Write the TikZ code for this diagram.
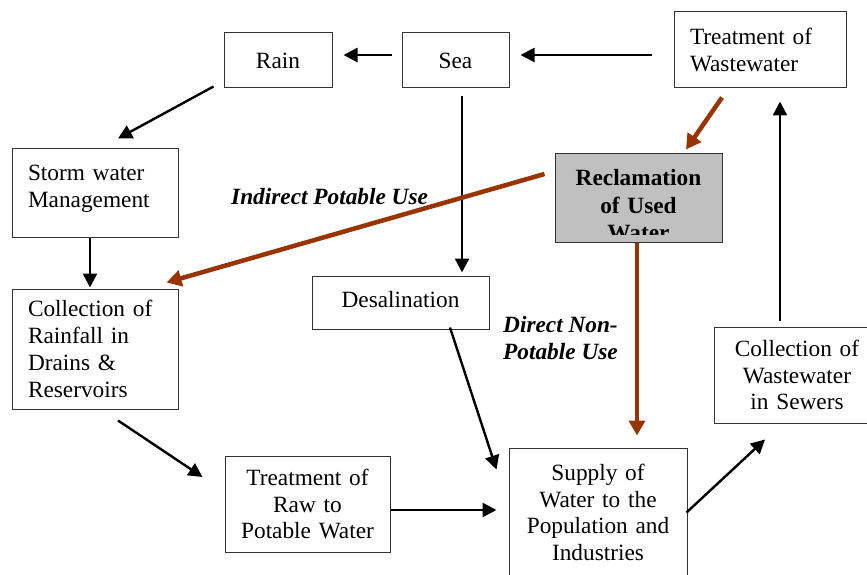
\documentclass[tikz,border=0pt]{standalone}
\usepackage{fontspec}
\setmainfont{Liberation Serif}
\usetikzlibrary{arrows.meta,calc}
\definecolor{brn}{RGB}{153,51,0}
\definecolor{rgray}{RGB}{192,192,192}
\begin{document}
\begin{tikzpicture}[x=1pt,y=-1pt,
  box/.style={draw=black!80, line width=1pt, inner sep=0pt, font=\fontsize{23.3}{26.8}\selectfont},
  cbox/.style={box, align=center},
  lbox/.style={box, align=left, inner xsep=16pt},
  sz/.style n args={3}{text width=#1, minimum width=#2, minimum height=#3},
  arr/.style={line width=2.4pt, -{Triangle[length=14pt,width=14pt]}},
  barr/.style={draw=brn, line width=4.5pt, -{Triangle[length=15pt,width=16pt]}, brn},
  lbl/.style={font=\fontsize{23.3}{27}\selectfont\bfseries\itshape, inner sep=0pt, align=left}
]
\useasboundingbox (0,0) rectangle (867,575);

% boxes
\node[cbox, sz={108pt}{108pt}{55pt}] (rain) at (278,60.5) {Rain};
\node[cbox, sz={107pt}{107pt}{55pt}] (sea) at (455.5,60.5) {Sea};
\node[lbox, sz={140pt}{172pt}{76pt}] (tww) at (760,50) {Treatment of\\Wastewater};
\node[box, fill=rgray, minimum width=167pt, minimum height=89pt] (recl) at (638.5,197.5) {};
\begin{scope}
  \clip ($(recl.north west)+(0,1)$) rectangle ($(recl.south east)+(0,-8)$);
  \node[cbox, draw=none, text width=167pt, font=\fontsize{23.3}{27.5}\selectfont\bfseries] (recltxt) at ($(recl.center)+(0,8)$) {Reclamation\\of Used\\Water};
\end{scope}
\node[lbox, sz={134pt}{166pt}{89pt}] (storm) at (95,192.5) {Storm water\\Management\\[-14pt]\mbox{}};
\node[lbox, sz={134pt}{166pt}{120pt}] (colr) at (95,349) {Collection of\\Rainfall in\\Drains \&\\Reservoirs};
\node[cbox, sz={177pt}{177pt}{53pt}] (desal) at (400.5,302.5) {Desalination\\[-21pt]\mbox{}};
\node[cbox, sz={165pt}{165pt}{96pt}] (traw) at (307.5,504) {Treatment of\\Raw to\\Potable Water};
\node[cbox, sz={178pt}{178pt}{129pt}] (supply) at (598,512.5) {Supply of\\Water to the\\Population and\\Industries};
\node[cbox, sz={166pt}{166pt}{96pt}] (colw) at (797,375) {Collection of\\Wastewater\\in Sewers};

% labels
\node[lbl, anchor=base west] (ipu) at (231,204) {Indirect Potable Use};
\node[lbl, anchor=west] (dnpu) at (503,338) {Direct Non-\\Potable Use};

% black connectors
\draw[arr] ($(sea.west)+(-10,-5.5)$) -- ($(rain.east)+(11,-5.5)$);
\draw[arr] ($(tww.west)+(-22,5)$) -- ($(sea.east)+(11,-5.5)$);
\draw[arr] ($(rain.south west)+(-10,-2)$) -- ($(storm.north)+(23,-9)$);
\draw[arr] ($(storm.south)+(-5,0)$) -- ($(colr.north)+(-5,-1)$);
\draw[arr] ($(sea.south)+(6.5,8)$) -- ($(desal.north)+(61.5,-3)$);
\draw[arr] ($(colw.north)+(-17,-6)$) -- ($(tww.south)+(20,13)$);
\draw[arr] ($(desal.south)+(49.5,-2)$) -- ($(supply.north west)+(-12,22)$);
\draw[arr] ($(colr.south)+(23,11)$) -- ($(traw.west)+(-22,-27)$);
\draw[arr] ($(traw.east)+(0,6)$) -- ($(supply.west)+(-12,-2.5)$);
\draw[arr] ($(supply.east)+(-1,0)$) -- ($(colw.south)+(-32,16)$);

% brown connectors
\draw[barr] ($(recl.west)+(-10,-23.5)$) -- ($(colr.north east)+(-12,-6)$);
\draw[barr] ($(tww.south)+(-38,9)$) -- ($(recl.north)+(47.5,-3)$);
\draw[barr] ($(recl.south)+(-1.5,0)$) -- ($(supply.north)+(39,-12)$);
\end{tikzpicture}
\end{document}
